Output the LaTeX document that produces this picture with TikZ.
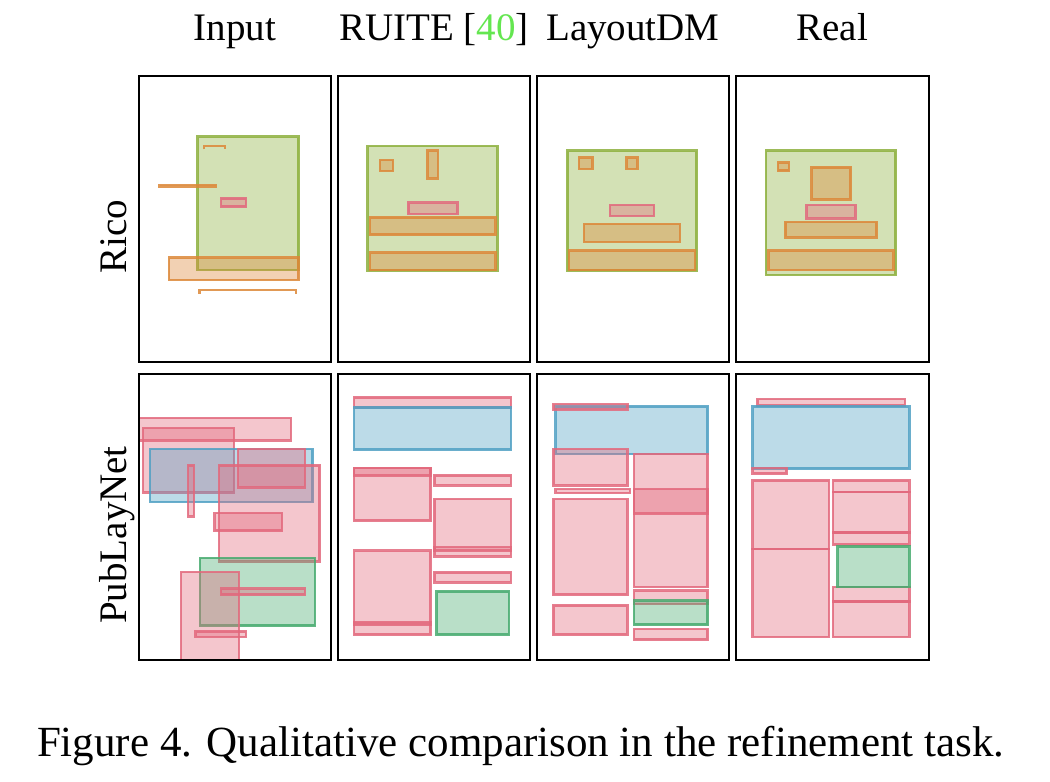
\documentclass[tikz,border=0pt]{standalone}
\usepackage{fontspec}
\setmainfont{Liberation Serif}
\definecolor{pinkc}{RGB}{226,104,124}
\definecolor{bluec}{RGB}{80,160,195}
\definecolor{greenc}{RGB}{70,170,110}
\definecolor{olivec}{RGB}{140,175,60}
\definecolor{orangec}{RGB}{220,135,55}
\definecolor{citec}{RGB}{100,230,80}
\begin{document}
\begin{tikzpicture}[x=0.5pt,y=-0.5pt,
    elem/.style={line width=1.25pt,fill opacity=0.38,draw opacity=0.85},
    pinkbox/.style={elem,draw=pinkc,fill=pinkc},
    bluebox/.style={elem,draw=bluec,fill=bluec},
    greenbox/.style={elem,draw=greenc,fill=greenc},
    olivebox/.style={elem,draw=olivec,fill=olivec},
    orangebox/.style={elem,draw=orangec,fill=orangec},
    bracket/.style={line width=1.1pt,draw=orangec,draw opacity=0.85},
    frame/.style={draw=black,line width=1pt},
    head/.style={font=\fontsize{19.5}{23}\selectfont,anchor=base,inner sep=0pt}]
\useasboundingbox (0,0) rectangle (1050,782);

% Rico, input
\begin{scope}[shift={(138.5,75.7)}]
  \clip (0,0) rectangle (192.5,286.5);
  \draw[olivebox] (59,61) rectangle (160,194.3);
  \draw[bracket] (65.7,73.7) -- (65.7,70.3) -- (86.7,70.3) -- (86.7,73.7);
  \draw[orangebox,line width=1.4pt] (21,109.5) rectangle (77,110.5);
  \draw[pinkbox] (82.3,122.7) rectangle (107.7,131);
  \draw[orangebox] (30.7,182) rectangle (160,204.3);
  \draw[bracket] (61,218.3) -- (61,214.3) -- (157.7,214.3) -- (157.7,218.3);
\end{scope}

% Rico, RUITE
\begin{scope}[shift={(337.7,75.7)}]
  \clip (0,0) rectangle (192.5,286.5);
  \draw[olivebox] (30,70.3) rectangle (159.7,195);
  \foreach \a/\b/\c/\d in {42.3/84.3/55.3/95.3, 90/75/100.3/102.7}
    \draw[orangebox] (\a,\b) rectangle (\c,\d);
  \draw[pinkbox] (70.7,127) rectangle (119.7,138.3);
  \foreach \a/\b/\c/\d in {32.3/141.7/157.7/159, 32.3/177/157.7/194.3}
    \draw[orangebox] (\a,\b) rectangle (\c,\d);
\end{scope}

% Rico, LayoutDM
\begin{scope}[shift={(536.7,75.7)}]
  \clip (0,0) rectangle (192.5,286.5);
  \draw[olivebox] (30.7,75) rectangle (160,195);
  \foreach \a/\b/\c/\d in {42.3/82/55.7/93.3, 90/82/100.7/93.3}
    \draw[orangebox] (\a,\b) rectangle (\c,\d);
  \draw[pinkbox] (73.3,129.3) rectangle (117.3,140.3);
  \foreach \a/\b/\c/\d in {47.3/148.3/143.3/166.3, 32.3/175/158.3/194.3}
    \draw[orangebox] (\a,\b) rectangle (\c,\d);
\end{scope}

% Rico, real
\begin{scope}[shift={(736,75.7)}]
  \clip (0,0) rectangle (192.5,286.5);
  \draw[olivebox] (30,75) rectangle (159.7,199.3);
  \foreach \a/\b/\c/\d in {42/87/53/95, 75.7/91.7/114.7/123.7}
    \draw[orangebox] (\a,\b) rectangle (\c,\d);
  \draw[pinkbox] (70.7,129.3) rectangle (119.3,142.7);
  \foreach \a/\b/\c/\d in {49.3/146.3/140.7/161.7, 32.7/175/157.3/194.3}
    \draw[orangebox] (\a,\b) rectangle (\c,\d);
\end{scope}

% PubLayNet, input
\begin{scope}[shift={(138.5,373.7)}]
  \clip (0,0) rectangle (192.5,286.5);
  \draw[pinkbox] (-5,44.3) rectangle (152.3,66.7);
  \draw[pinkbox] (4.3,54.3) rectangle (95.7,118.7);
  \draw[bluebox] (11.7,75.3) rectangle (174,128.3);
  \foreach \a/\b/\c/\d in {99.3/75.3/166.7/113.7, 49.3/91.7/55.3/142.7,
      80.3/91.7/181/187.7, 76/139.3/143.3/157}
    \draw[pinkbox] (\a,\b) rectangle (\c,\d);
  \draw[greenbox] (61.7,184.3) rectangle (176.7,252);
  \foreach \a/\b/\c/\d in {42.3/198.3/100.3/300, 82.7/215/166.7/221,
      57/257.7/107.7/263.3}
    \draw[pinkbox] (\a,\b) rectangle (\c,\d);
\end{scope}

% PubLayNet, RUITE
\begin{scope}[shift={(337.7,373.7)}]
  \clip (0,0) rectangle (192.5,286.5);
  \draw[pinkbox] (16.3,23.7) rectangle (173.3,33.7);
  \draw[bluebox] (16.3,33.7) rectangle (173.3,76);
  \foreach \a/\b/\c/\d in {16.3/94.3/93/102, 16.3/94.3/93/147, 96.7/101.7/173.3/111.7,
      96.7/125.3/173.3/177, 96.7/173.3/173.3/182.7, 96.7/198.7/173.3/208.7,
      16.3/177/93/251, 16.3/248.3/93/261}
    \draw[pinkbox] (\a,\b) rectangle (\c,\d);
  \draw[greenbox] (99,217.7) rectangle (171.3,261);
\end{scope}

% PubLayNet, LayoutDM
\begin{scope}[shift={(536.7,373.7)}]
  \clip (0,0) rectangle (192.5,286.5);
  \draw[bluebox] (19,32.7) rectangle (171,80.3);
  \foreach \a/\b/\c/\d in {16.7/30.3/91/36, 16.7/75.3/90.7/111.7, 19/115.3/93.3/119.3,
      16.7/125.3/90.7/221, 16.7/231.7/90.7/261, 97.3/80.3/171/213.3,
      97.3/115.3/171/140, 97.3/217/171/230.3}
    \draw[pinkbox] (\a,\b) rectangle (\c,\d);
  \draw[greenbox] (97.3,227) rectangle (171,251);
  \draw[pinkbox] (97.3,255.3) rectangle (171,266);
\end{scope}

% PubLayNet, real
\begin{scope}[shift={(736,373.7)}]
  \clip (0,0) rectangle (192.5,286.5);
  \draw[pinkbox] (21.3,25.3) rectangle (169,31.7);
  \draw[bluebox] (16.7,32.7) rectangle (173.3,95);
  \foreach \a/\b/\c/\d in {16.7/94.3/50.7/100, 16.7/106.7/93/175.3, 16.7/175.3/93/263.3,
      97/106.7/173.3/118.3, 97/118.3/173.3/158.7, 97/158.7/173.3/171,
      97/213.3/173.3/227.7, 97/227.7/173.3/263.3}
    \draw[pinkbox] (\a,\b) rectangle (\c,\d);
  \draw[greenbox] (101.7,172.7) rectangle (173.3,213.3);
\end{scope}

\foreach \x in {138.5,337.7,536.7,736}
  \foreach \y in {75.7,373.7}
    \draw[frame] (\x,\y) rectangle ++(192.5,286.5);

\node[head] (input) at (234.7,40.7) {Input};
\node[head] (ruite) at (433.9,40.7) {RUITE [\textcolor{citec}{40}]};
\node[head] (layoutdm) at (632.9,40.7) {LayoutDM};
\node[head] (real) at (832.2,40.7) {Real};

\node[head,rotate=90] (rico) at (126.7,237) {Rico};
\node[head,rotate=90] (publaynet) at (126.7,535) {PubLayNet};

\node[anchor=base,inner sep=0pt,font=\fontsize{21.5}{26}\selectfont] (caption) at (520.7,756.7)
  {Figure 4. Qualitative comparison in the refinement task.};
\end{tikzpicture}
\end{document}
